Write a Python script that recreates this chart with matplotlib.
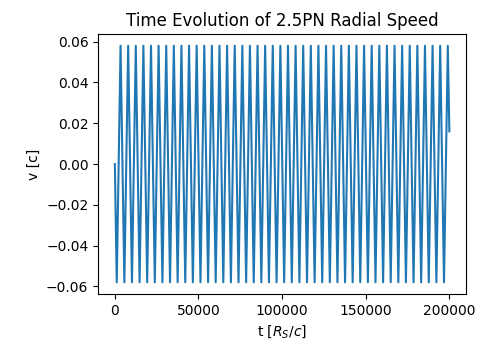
import matplotlib
matplotlib.use("Agg")
import matplotlib.pyplot as plt

# Extrema of the radial speed (t in R_S/c, v in c)
t_start = [0]
v_start = [0.0]
t_extrema = [1138, 3413, 5688, 7963, 10238, 12513, 14788, 17063, 19338, 21613,
             23888, 26163, 28438, 30713, 32988, 35263, 37538, 39813, 42088, 44363,
             46638, 48913, 51188, 53463, 55738, 58013, 60288, 62563, 64838, 67113,
             69388, 71663, 73938, 76213, 78488, 80763, 83038, 85313, 87588, 89863,
             92138, 94413, 96688, 98963, 101238, 103513, 105788, 108063, 110338, 112613,
             114888, 117163, 119438, 121713, 123988, 126263, 128538, 130813, 133088, 135363,
             137638, 139913, 142188, 144463, 146738, 149013, 151288, 153563, 155838, 158113,
             160388, 162663, 164938, 167213, 169488, 171763, 174038, 176313, 178588, 180863,
             183138, 185413, 187688, 189963, 192238, 194513, 196788, 199063]
v_trough = -0.058
v_peak = 0.058
t_end = [200000]
v_end = [0.016]

v_extrema = [v_trough if i % 2 == 0 else v_peak for i in range(len(t_extrema))]
t = t_start + t_extrema + t_end
v = v_start + v_extrema + v_end

fig = plt.figure(figsize=(4.81, 3.46), dpi=100)
ax = fig.add_axes([0.204, 0.150, 0.765, 0.752])
ax.plot(t, v, color="#1f77b4", linewidth=1.5)
ax.set_title("Time Evolution of 2.5PN Radial Speed")
ax.set_xlabel(r"t [$R_S/c$]")
ax.set_ylabel("v [c]")
ax.set_xticks([0, 50000, 100000, 150000, 200000])
ax.set_yticks([-0.06, -0.04, -0.02, 0.00, 0.02, 0.04, 0.06])
fig.savefig("out.png", dpi=100)
